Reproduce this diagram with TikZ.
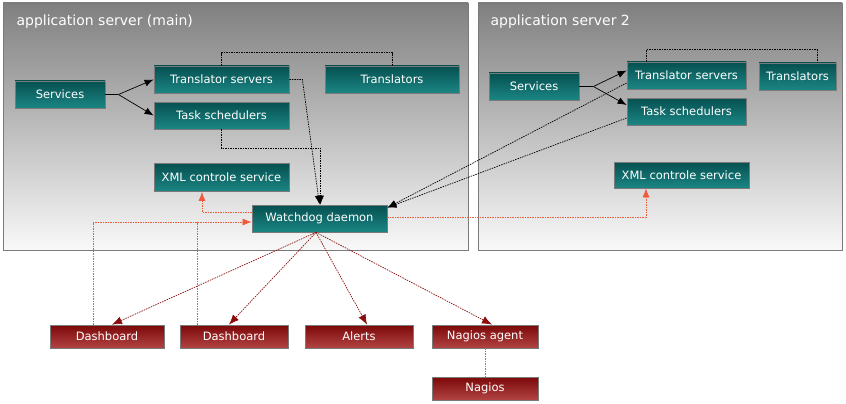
\documentclass[tikz,border=0pt]{standalone}
\usepackage{fontspec}
\setmainfont{DejaVu Sans}
\usetikzlibrary{arrows.meta}
\definecolor{tealtop}{HTML}{065050}
\definecolor{tealbot}{HTML}{1B8684}
\definecolor{redtop}{HTML}{7C0808}
\definecolor{redbot}{HTML}{B24444}
\definecolor{rim}{HTML}{7A7A7A}
\definecolor{alrtc}{HTML}{EE5A3A}
\definecolor{fanc}{HTML}{8A0C0C}
\tikzset{
  >={Latex[length=9pt,width=7pt]},
  grp/.style ={draw=rim, line width=0.8pt, top color=gray!100, bottom color=gray!5},
  ttl/.style ={anchor=west, text=white, font=\fontsize{14}{16}\selectfont},
  box/.style ={draw=rim, line width=0.8pt, inner sep=0pt, minimum height=27pt, text=white, font=\fontsize{11.5}{13}\selectfont},
  svc/.style ={box, top color=tealtop, bottom color=tealbot},
  mon/.style ={box, top color=redtop, bottom color=redbot, minimum height=23pt},
  lnk/.style ={line width=0.7pt},
  dot/.style ={line width=0.7pt, dash pattern=on 1.5pt off 1pt},
  alrt/.style={dot, color=alrtc, -{Latex[length=9pt,width=7pt]}},
  fan/.style ={dot, color=fanc, -{Latex[length=10pt,width=8pt]}}
}
\begin{document}
\begin{tikzpicture}[x=1pt,y=-1pt]
\useasboundingbox (0,0) rectangle (846,404);
\draw[grp] (3,3) rectangle (468,250);
\draw[grp] (478,3) rectangle (842,250);
\node[ttl] (ttlA) at (13,22) {application server (main)};
\node[ttl] (ttlB) at (487,22) {application server 2};

\node[svc, minimum width=90pt]  (srv)  at (60,94.5)    {Services};
\node[svc, minimum width=135pt] (trs)  at (221.5,79.5) {Translator servers};
\node[svc, minimum width=134pt] (tr)   at (392,79.5)   {Translators};
\node[svc, minimum width=135pt] (ts)   at (221.5,115.5){Task schedulers};
\node[svc, minimum width=135pt, minimum height=28pt] (xml) at (221.5,177.5) {XML controle service};
\node[svc, minimum width=135pt] (wd)   at (319.5,218.5){Watchdog daemon};

\node[svc, minimum width=119pt] (trsB) at (686.5,75.5) {Translator servers};
\node[svc, minimum width=90pt]  (srvB) at (534,86.5)   {Services};
\node[svc, minimum width=77pt]  (trB)  at (797.5,76.5) {Translators};
\node[svc, minimum width=119pt] (tsB)  at (686.5,111.5){Task schedulers};
\node[svc, minimum width=135pt, minimum height=26pt] (xmlB) at (681.5,175) {XML controle service};

\node[mon, minimum width=114pt] (dashA)  at (107,336.5) {Dashboard};
\node[mon, minimum width=108pt] (dashB)  at (234,336.5) {Dashboard};
\node[mon, minimum width=108pt] (alerts) at (359,336.5) {Alerts};
\node[mon, minimum width=106pt] (nagag)  at (485,336.5) {Nagios agent};
\node[mon, minimum width=106pt] (nagios) at (485,388.5) {Nagios};

\draw[lnk] (srv.east) -- ++(13,0) coordinate (fkA);
\draw[lnk,->] (fkA) -- (trs.west);
\draw[lnk,->] (fkA) -- (ts.west);
\draw[dot] (trs.north) -- ++(0,-13) -| (tr.north);
\draw[dot,->] (trs.east) -- ++(13,0) -- (wd.north);
\draw[dot,->] (ts.south) -- ++(0,19) -| ([xshift=1pt]wd.north);

\draw[line width=1.6pt] (srvB.east) -- ++(14,0) coordinate (fkB);
\draw[lnk,->] (fkB) -- ([yshift=5pt]trsB.west);
\draw[lnk,->] (fkB) -- ([yshift=6.5pt]tsB.west);
\draw[dot] ([xshift=-40.5pt]trsB.north) -- ++(0,-12) -| ([xshift=19.5pt]trB.north);
\draw[dot,->] ([yshift=-7.5pt]trsB.west) -- ([yshift=-3pt]wd.north east);
\draw[dot,->] ([yshift=-6.5pt]tsB.west) -- ([yshift=-3pt]wd.north east);

\draw[alrt] ([yshift=6.5pt]wd.west) -| ([xshift=-19.5pt]xml.south);
\draw[alrt] ([yshift=1.5pt]wd.east) -| ([xshift=-35.5pt]xmlB.south);
\coordinate (wdin) at ([yshift=-3.5pt]wd.west);
\coordinate (dbtop) at ([xshift=-37pt]dashB.north);
\draw[alrt] ([xshift=-14pt]dashA.north) |- (wdin);
\draw[dot, color=alrtc] (dbtop) -- (dbtop |- wdin);

\coordinate (wdout) at ([xshift=-3.5pt]wd.south);
\draw[fan] (wdout) -- ([xshift=5pt]dashA.north);
\draw[fan] (wdout) -- ([xshift=-5pt]dashB.north);
\draw[fan] (wdout) -- ([xshift=8pt]alerts.north);
\draw[fan] (wdout) -- ([xshift=7pt]nagag.north);
\draw[dot, color=gray] (nagag.south) -- (nagios.north);
\end{tikzpicture}
\end{document}
